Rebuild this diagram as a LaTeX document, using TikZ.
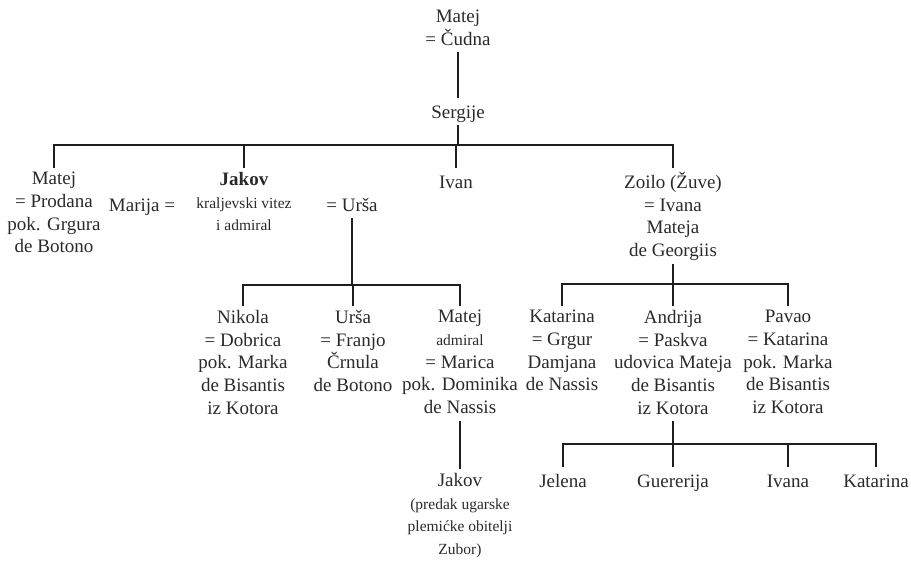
\documentclass[tikz,border=0pt]{standalone}
\usepackage{fontspec}
\setmainfont{Liberation Serif}
\definecolor{ink}{HTML}{2A2A2A}
\definecolor{wire}{HTML}{1E1E1E}

\tikzstyle{person}=[
    anchor=north,
    align=center,
    inner sep=0pt,
    text=ink,
    font=\fontsize{19}{22.7}\selectfont,
    execute at begin node=\strut,
    execute at end node=\strut
]
\tikzstyle{link}=[
    draw=wire,
    line width=1.8pt
]
\tikzstyle{bar}=[
    link,
    line cap=rect
]
\tikzstyle{drop}=[
    link,
    shorten >=4pt
]
\newcommand{\smallnote}[1]{{\fontsize{15.5}{22.7}\selectfont #1}}

\begin{document}
\begin{tikzpicture}[x=1pt,y=-1pt]
	\useasboundingbox (0,0) rectangle (911,560);
	% BAR LEVELS
	\coordinate (bar1) at (0,145);
	\coordinate (bar2) at (0,285);
	\coordinate (bar3) at (0,284);
	\coordinate (bar4) at (0,444);

	% ROOT
	\node (matej0) [person] at (458,10) {Matej\\= Čudna};
	\node (sergije) [person] at (458,102) {Sergije};

	% SONS OF SERGIJE
	\node (matej1) [person] at (54,172) {Matej\\= Prodana\\pok. Grgura\\de Botono};
	\node (marija) [person] at (142,195) {Marija =};
	\node (jakov) [person] at (244,172) {\textbf{Jakov}\\\smallnote{kraljevski vitez}\\\smallnote{i admiral}};
	\node (ursa0) [person] at (352,195) {= Urša};
	\node (ivan) [person] at (456,172) {Ivan};
	\node (zoilo) [person] at (673,172) {Zoilo (Žuve)\\= Ivana\\Mateja\\de Georgiis};

	% CHILDREN OF JAKOV
	\node (nikola) [person] at (243,310) {Nikola\\= Dobrica\\pok. Marka\\de Bisantis\\iz Kotora};
	\node (ursa1) [person] at (353,310) {Urša\\= Franjo\\Črnula\\de Botono};
	\node (matej2) [person] at (460,310) {Matej\\\smallnote{admiral}\\= Marica\\pok. Dominika\\de Nassis};
	\node (jakov2) [person] at (460,473) {Jakov\\\smallnote{(predak ugarske}\\\smallnote{plemićke obitelji}\\\smallnote{Zubor)}};

	% CHILDREN OF ZOILO
	\node (katarina1) [person] at (562,310) {Katarina\\= Grgur\\Damjana\\de Nassis};
	\node (andrija) [person] at (673,310) {Andrija\\= Paskva\\udovica Mateja\\de Bisantis\\iz Kotora};
	\node (pavao) [person] at (788,310) {Pavao\\= Katarina\\pok. Marka\\de Bisantis\\iz Kotora};

	% CHILDREN OF ANDRIJA
	\node (jelena) [person] at (563,471) {Jelena};
	\node (guererija) [person] at (673,471) {Guererija};
	\node (ivana) [person] at (788,471) {Ivana};
	\node (katarina2) [person] at (876,471) {Katarina};

	% Vertical descent
	\draw[drop] (matej0.south) -- (sergije.north);
	\draw[drop] (matej2.south) -- (jakov2.north);

	% Sergije to his sons
	\draw[link] (sergije.south) -- (sergije.south |- bar1);
	\draw[bar] (matej1.north |- bar1) -- (zoilo.north |- bar1);
	\foreach \kid in {matej1,jakov,ivan,zoilo}
		\draw[drop] (\kid.north |- bar1) -- (\kid.north);

	% Jakov and Urša to their children
	\draw[link] (ursa0.south) -- (ursa0.south |- bar2);
	\draw[bar] (nikola.north |- bar2) -- (matej2.north |- bar2);
	\foreach \kid in {nikola,ursa1,matej2}
		\draw[drop] (\kid.north |- bar2) -- (\kid.north);

	% Zoilo to his children
	\draw[link] (zoilo.south) -- (zoilo.south |- bar3);
	\draw[bar] (katarina1.north |- bar3) -- (pavao.north |- bar3);
	\foreach \kid in {katarina1,andrija,pavao}
		\draw[drop] (\kid.north |- bar3) -- (\kid.north);

	% Andrija to his children
	\draw[link] (andrija.south) -- (andrija.south |- bar4);
	\draw[bar] (jelena.north |- bar4) -- (katarina2.north |- bar4);
	\foreach \kid in {jelena,guererija,ivana,katarina2}
		\draw[drop] (\kid.north |- bar4) -- (\kid.north);
\end{tikzpicture}
\end{document}
